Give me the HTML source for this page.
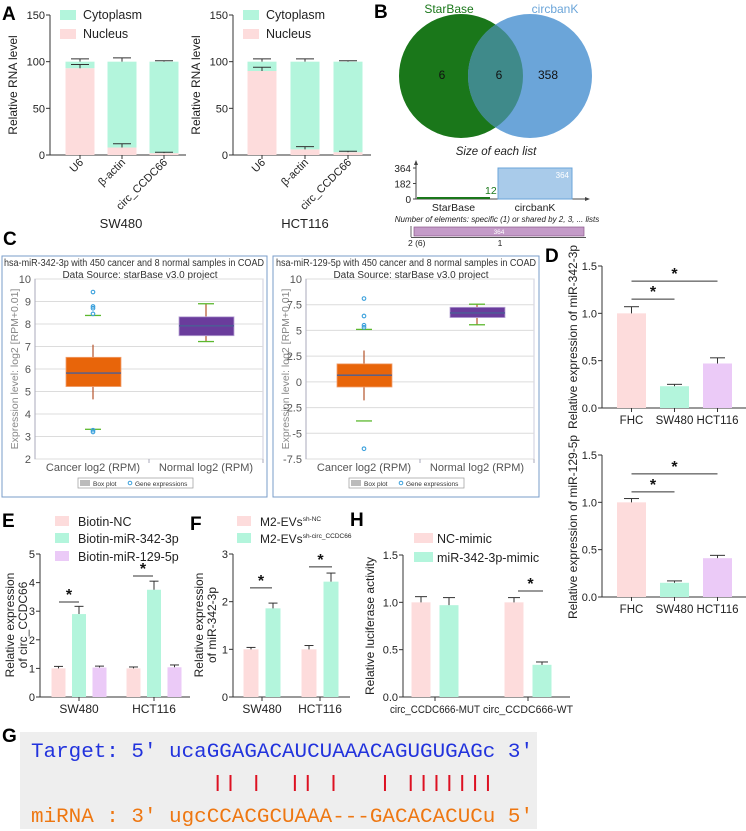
<!DOCTYPE html>
<html><head><meta charset="utf-8"><style>
html,body{margin:0;padding:0;background:#fff;}
svg{display:block;font-family:"Liberation Sans",Arial,sans-serif;}
.lt{font-weight:bold;font-size:19px;fill:#000;}
.yt{font-size:12px;fill:#222;}
.ct{font-size:10px;fill:#333;}
</style></head><body>
<svg id="fig" width="746" height="831" viewBox="0 0 746 831">
<defs><clipPath id="greenClip"><circle cx="461" cy="76" r="62"/></clipPath></defs>

<!-- Panel letters -->
<text class="lt" x="2" y="20">A</text>
<text class="lt" x="374" y="18">B</text>
<text class="lt" x="3" y="245">C</text>
<text class="lt" x="545" y="262">D</text>
<text class="lt" x="2" y="527">E</text>
<text class="lt" x="190" y="530">F</text>
<text class="lt" x="350" y="526">H</text>
<text class="lt" x="2" y="742">G</text>

<!-- Panel A legends / titles -->
<g>
<rect x="60" y="10" width="16" height="10" fill="#b3f5dc"/><text x="83" y="19" font-size="12.5" fill="#222">Cytoplasm</text>
<rect x="60" y="29" width="16" height="10" fill="#fddcdc"/><text x="83" y="38" font-size="12.5" fill="#222">Nucleus</text>
</g>
<g>
<rect x="243" y="10" width="16" height="10" fill="#b3f5dc"/><text x="266" y="19" font-size="12.5" fill="#222">Cytoplasm</text>
<rect x="243" y="29" width="16" height="10" fill="#fddcdc"/><text x="266" y="38" font-size="12.5" fill="#222">Nucleus</text>
</g>
<text class="yt" transform="translate(17,85) rotate(-90)" text-anchor="middle">Relative RNA level</text>
<text class="yt" transform="translate(200,85) rotate(-90)" text-anchor="middle">Relative RNA level</text>
<text x="121" y="228" font-size="13" text-anchor="middle" fill="#222">SW480</text>
<text x="305" y="228" font-size="13" text-anchor="middle" fill="#222">HCT116</text>

<!-- Panel B -->
<g>
<circle cx="461" cy="76" r="62" fill="#1a771a"/>
<circle cx="530" cy="76" r="62" fill="#6ba5d9"/>
<circle cx="530" cy="76" r="62" fill="#3f8a8a" clip-path="url(#greenClip)"/>
<text x="449" y="13" font-size="12" text-anchor="middle" fill="#1a771a">StarBase</text>
<text x="555" y="13" font-size="12" text-anchor="middle" fill="#6ba5d9">circbanK</text>
<text x="442" y="79" font-size="12" text-anchor="middle" fill="#111">6</text>
<text x="499" y="79" font-size="12" text-anchor="middle" fill="#111">6</text>
<text x="548" y="79" font-size="12" text-anchor="middle" fill="#111">358</text>
</g>
<text x="496" y="155" font-size="11.5" font-style="italic" text-anchor="middle" fill="#222">Size of each list</text>
<text x="497" y="222" font-size="8" font-style="italic" text-anchor="middle" fill="#222">Number of elements: specific (1) or shared by 2, 3, ... lists</text>

<!-- Panel C boxes -->
<rect x="2" y="256" width="265" height="241" fill="none" stroke="#7a9cc8" stroke-width="1"/>
<rect x="273" y="256" width="266" height="241" fill="none" stroke="#7a9cc8" stroke-width="1"/>
<text class="ct" x="134" y="266" text-anchor="middle" textLength="260" lengthAdjust="spacingAndGlyphs">hsa-miR-342-3p with 450 cancer and 8 normal samples in COAD</text>
<text class="ct" x="140" y="278" text-anchor="middle">Data Source: starBase v3.0 project</text>
<text class="ct" x="406" y="266" text-anchor="middle" textLength="260" lengthAdjust="spacingAndGlyphs">hsa-miR-129-5p with 450 cancer and 8 normal samples in COAD</text>
<text class="ct" x="411" y="278" text-anchor="middle">Data Source: starBase v3.0 project</text>
<text transform="translate(18,369) rotate(-90)" font-size="10.5" fill="#888" text-anchor="middle">Expression level: log2 [RPM+0.01]</text>
<text transform="translate(289,369) rotate(-90)" font-size="10.5" fill="#888" text-anchor="middle">Expression level: log2 [RPM+0.01]</text>
<g>
<rect x="78" y="478" width="115" height="10" fill="#fff" stroke="#999" stroke-width="0.7"/>
<rect x="80" y="480" width="10" height="6" fill="#bbb"/><text x="93" y="486" font-size="6.5" fill="#333">Box plot</text>
<circle cx="130" cy="483" r="1.8" fill="none" stroke="#3aa0dc"/><text x="135" y="486" font-size="6.5" fill="#333">Gene expressions</text>
</g>
<g>
<rect x="349" y="478" width="115" height="10" fill="#fff" stroke="#999" stroke-width="0.7"/>
<rect x="351" y="480" width="10" height="6" fill="#bbb"/><text x="364" y="486" font-size="6.5" fill="#333">Box plot</text>
<circle cx="401" cy="483" r="1.8" fill="none" stroke="#3aa0dc"/><text x="406" y="486" font-size="6.5" fill="#333">Gene expressions</text>
</g>

<!-- Panel D titles -->
<text class="yt" transform="translate(577,337) rotate(-90)" text-anchor="middle">Relative expression of miR-342-3p</text>
<text class="yt" transform="translate(577,527) rotate(-90)" text-anchor="middle">Relative expression of miR-129-5p</text>

<!-- Panel E -->
<g>
<rect x="55" y="516" width="14" height="10" fill="#fddcdc"/><text x="78" y="526" font-size="12.5" fill="#222">Biotin-NC</text>
<rect x="55" y="533" width="14" height="10" fill="#b3f5dc"/><text x="78" y="543" font-size="12.5" fill="#222">Biotin-miR-342-3p</text>
<rect x="55" y="551" width="14" height="10" fill="#ebcaf7"/><text x="78" y="561" font-size="12.5" fill="#222">Biotin-miR-129-5p</text>
</g>
<text class="yt" transform="translate(14,625) rotate(-90)" text-anchor="middle">Relative expression</text>
<text class="yt" transform="translate(27,625) rotate(-90)" text-anchor="middle">of circ_CCDC66</text>

<!-- Panel F -->
<g>
<rect x="237" y="516" width="14" height="10" fill="#fddcdc"/><text x="260" y="526" font-size="12" fill="#222">M2-EVs<tspan font-size="6.5" dy="-5">sh-NC</tspan></text>
<rect x="237" y="533" width="14" height="10" fill="#b3f5dc"/><text x="260" y="543" font-size="12" fill="#222">M2-EVs<tspan font-size="6.5" dy="-5">sh-circ_CCDC66</tspan></text>
</g>
<text class="yt" transform="translate(203,625) rotate(-90)" text-anchor="middle">Relative expression</text>
<text class="yt" transform="translate(216,625) rotate(-90)" text-anchor="middle">of miR-342-3p</text>

<!-- Panel H -->
<g>
<rect x="414" y="533" width="19" height="10" fill="#fddcdc"/><text x="437" y="543" font-size="12.5" fill="#222">NC-mimic</text>
<rect x="414" y="552" width="19" height="10" fill="#b3f5dc"/><text x="437" y="562" font-size="12.5" fill="#222">miR-342-3p-mimic</text>
</g>
<text class="yt" transform="translate(374,626) rotate(-90)" text-anchor="middle">Relative luciferase activity</text>

<!-- Panel G -->
<rect x="20" y="732" width="517" height="97" fill="#eeeeee"/>
<text x="31" y="757" font-family="'Liberation Mono',monospace" font-size="20" fill="#2233dd" textLength="502" lengthAdjust="spacingAndGlyphs" xml:space="preserve">Target: 5' ucaGGAGACAUCUAAACAGUGUGAGc 3'</text>
<text x="31" y="822" font-family="'Liberation Mono',monospace" font-size="20" fill="#ee7711" textLength="502" lengthAdjust="spacingAndGlyphs" xml:space="preserve">miRNA : 3' ugcCCACGCUAAA---GACACACUCu 5'</text>

<g id="layer"></g>
</svg>
<script>
// ---------- Data ----------
const aCats = ['U6', 'β-actin', 'circ_CCDC66'];
const aTicks = [0, 50, 100, 150];
const aSwNucleus = [93, 8, 2];
const aSwNucleusErr = [97, 12, 3];
const aSwTotal = [100, 100, 100];
const aSwTotalErr = [103, 104, 101];
const aHctNucleus = [90, 6, 3];
const aHctNucleusErr = [94, 9, 4];
const aHctTotal = [100, 100, 100];
const aHctTotalErr = [103, 103, 101];

const bCats = ['StarBase', 'circbanK'];
const bSizes = [12, 364];
const bTicks = [0, 182, 364];

const cCats = ['Cancer log2 (RPM)', 'Normal log2 (RPM)'];
const c1Ticks = [2, 3, 4, 5, 6, 7, 8, 9, 10];
const c1Q1 = [5.22, 7.48];
const c1Med = [5.82, 7.92];
const c1Q3 = [6.52, 8.32];
const c1WLo = [4.65, 7.22];
const c1WHi = [7.08, 8.9];
const c1CapLo = [3.32, 7.22];
const c1CapHi = [8.38, 8.9];
const c1Out = [[9.42, 8.78, 8.7, 8.45, 3.28, 3.2], []];
const c2Ticks = [-7.5, -5, -2.5, 0, 2.5, 5, 7.5, 10];
const c2Q1 = [-0.5, 6.25];
const c2Med = [0.65, 6.7];
const c2Q3 = [1.75, 7.25];
const c2WLo = [-1.8, 5.55];
const c2WHi = [3.05, 7.55];
const c2CapLo = [-3.8, 5.55];
const c2CapHi = [5.1, 7.55];
const c2Out = [[8.1, 6.4, 5.5, 5.3, -6.5], []];

const dCats = ['FHC', 'SW480', 'HCT116'];
const dTicks = [0, 0.5, 1.0, 1.5];
const d342 = [1.0, 0.23, 0.47];
const d342Err = [1.07, 0.25, 0.53];
const d129 = [1.0, 0.15, 0.41];
const d129Err = [1.04, 0.17, 0.44];

const eGroups = ['SW480', 'HCT116'];
const eTicks = [0, 1, 2, 3, 4, 5];
const eNC = [1.0, 1.0];
const eNCErr = [1.07, 1.05];
const e342 = [2.9, 3.75];
const e342Err = [3.17, 4.05];
const e129 = [1.03, 1.04];
const e129Err = [1.08, 1.12];

const fGroups = ['SW480', 'HCT116'];
const fTicks = [0, 1, 2, 3];
const fNC = [1.0, 1.0];
const fNCErr = [1.04, 1.08];
const fSh = [1.86, 2.42];
const fShErr = [1.97, 2.6];

const hGroups = ['circ_CCDC666-MUT', 'circ_CCDC666-WT'];
const hTicks = [0, 0.5, 1.0, 1.5];
const hNC = [1.0, 1.0];
const hNCErr = [1.06, 1.05];
const hMimic = [0.97, 0.34];
const hMimicErr = [1.05, 0.37];

// pairing positions (target index) in G alignment
const gPairs = [3, 4, 6, 9, 10, 12, 16, 18, 19, 20, 21, 22, 23, 24];

// ---------- Helpers ----------
const NS = 'http://www.w3.org/2000/svg';
const layer = document.getElementById('layer');
const PINK = '#fddcdc', MINT = '#b3f5dc', LAV = '#ebcaf7';
function el(tag, attrs, parent) {
  const e = document.createElementNS(NS, tag);
  for (const k in attrs) e.setAttribute(k, attrs[k]);
  (parent || layer).appendChild(e);
  return e;
}
function lin(d0, d1, r0, r1) { return v => r0 + (v - d0) * (r1 - r0) / (d1 - d0); }
function fmt1(v) { return v.toFixed(1); }

function yAxis(name, x, y, ticks, f) {
  const ax = el('line', {x1: x, x2: x, y1: y(ticks[ticks.length - 1]), y2: y(ticks[0]), stroke: '#333', 'stroke-width': 1});
  
  
  ticks.forEach(t => {
    el('line', {x1: x - 4, x2: x, y1: y(t), y2: y(t), stroke: '#333'});
    const tx = el('text', {x: x - 5, y: y(t) + 4, 'text-anchor': 'end', 'font-size': 11, fill: '#222'});
    tx.textContent = f(t);
    
    
  });
}
function xAxis(name, x0, x1, yv) {
  const ax = el('line', {x1: x0, x2: x1, y1: yv, y2: yv, stroke: '#333', 'stroke-width': 1});
  
  
}
function bar(name, cx, w, y, v0, v1, color) {
  const r = el('rect', {x: cx - w / 2, y: y(v1), width: w, height: y(v0) - y(v1), fill: color});
  
  
}
function errBar(name, cx, y, v, e, cap) {
  const g = el('g', {stroke: '#333', 'stroke-width': 1});
  
  
  el('line', {x1: cx, x2: cx, y1: y(v), y2: y(e)}, g);
  el('line', {x1: cx - cap / 2, x2: cx + cap / 2, y1: y(e), y2: y(e)}, g);
}
function sig(name, xa, xb, yv) {
  const l = el('line', {x1: xa, x2: xb, y1: yv, y2: yv, stroke: '#333'});
  
  
  const s = el('text', {x: (xa + xb) / 2, y: yv - 2, 'text-anchor': 'middle', 'font-size': 16, 'font-weight': 'bold', fill: '#111'});
  s.textContent = '*';
  
  
}
function xLabel(name, x, axisY, txt, size, len) {
  el('line', {x1: x, x2: x, y1: axisY, y2: axisY + 4, stroke: '#333'});
  const attrs = {x: x, y: axisY + 16, 'text-anchor': 'middle', 'font-size': size || 11.5, fill: '#222'};
  if (len) { attrs.textLength = len; attrs.lengthAdjust = 'spacingAndGlyphs'; }
  const t = el('text', attrs);
  t.textContent = txt;
  
  
}

// ---------- Panel A ----------
function panelA(prefix, axisX, start, step, nuc, nucErr, tot, totErr) {
  const y = lin(0, 150, 155, 15);
  yAxis(prefix, axisX, y, aTicks, t => String(t));
  xAxis(prefix, axisX, start + step * aCats.length - 6, 155);
  aCats.forEach((c, i) => {
    const cx = start + 14 + i * step;
    bar(prefix + '-nucleus-bar', cx, 29, y, 0, nuc[i], PINK);
    bar(prefix + '-cytoplasm-bar', cx, 29, y, nuc[i], tot[i], MINT);
    errBar(prefix + '-nucleus-error', cx, y, nuc[i], nucErr[i], 18);
    errBar(prefix + '-cytoplasm-error', cx, y, tot[i], totErr[i], 18);
    el('line', {x1: cx, x2: cx, y1: 155, y2: 159, stroke: '#333'});
    const t = el('text', {transform: `translate(${cx + 4},${163}) rotate(-45)`, 'text-anchor': 'end', 'font-size': 11, fill: '#222'});
    t.textContent = c;
    
    
  });
}
panelA('a-sw480', 50, 66, 42, aSwNucleus, aSwNucleusErr, aSwTotal, aSwTotalErr);
panelA('a-hct116', 233, 248, 43, aHctNucleus, aHctNucleusErr, aHctTotal, aHctTotalErr);

// ---------- Panel B bar ----------
(function () {
  const y = lin(0, 364, 199, 168);
  const ax = 416;
  el('line', {x1: ax, x2: ax, y1: 163, y2: 199, stroke: '#444'});
  el('line', {x1: ax, x2: 588, y1: 199, y2: 199, stroke: '#444'});
  el('polygon', {points: '414,165 416,160 418,165', fill: '#444'});
  el('polygon', {points: '585,197 590,199 585,201', fill: '#444'});
  bTicks.forEach(t => {
    el('line', {x1: ax - 3, x2: ax, y1: y(t), y2: y(t), stroke: '#444'});
    const tx = el('text', {x: ax - 5, y: y(t) + 4, 'text-anchor': 'end', 'font-size': 10, fill: '#222'});
    tx.textContent = t;
    
    
  });
  const xs = [417, 498], ws = [73, 74], cols = ['#1a771a', '#a9cbea'];
  bCats.forEach((c, i) => {
    const h = Math.max(2, y(0) - y(bSizes[i]));
    const r = el('rect', {x: xs[i], y: y(0) - h, width: ws[i], height: h, fill: cols[i], stroke: i ? '#6ba5d9' : 'none'});
    
    
    const lb = el('text', {x: xs[i] + ws[i] / 2, y: 211, 'text-anchor': 'middle', 'font-size': 10.5, fill: '#222'});
    lb.textContent = c;
    
    
    const v = el('text', i ? {x: xs[i] + ws[i] - 3, y: y(bSizes[i]) + 10, 'text-anchor': 'end', 'font-size': 8, fill: '#fff'} : {x: xs[i] + ws[i] - 5, y: 194, 'text-anchor': 'start', 'font-size': 10.5, fill: '#1a771a'});
    v.textContent = bSizes[i];
    
    
  });
  const sx = lin(0, 364, 414, 584);
  el('line', {x1: 411, x2: 411, y1: 226, y2: 237, stroke: '#666'});
  const pb = el('rect', {x: sx(0), y: 227, width: sx(bSizes[1]) - sx(0), height: 9, fill: '#c49bc8', stroke: '#8a5a8a', 'stroke-width': 0.7});
  
  
  el('line', {x1: 411, x2: 586, y1: 237.5, y2: 237.5, stroke: '#555'});
  const pt = el('text', {x: (sx(0) + sx(bSizes[1])) / 2, y: 234, 'text-anchor': 'middle', 'font-size': 6.5, fill: '#fff'});
  pt.textContent = bSizes[1];
  const l1 = el('text', {x: 408, y: 246, 'font-size': 8.5, fill: '#222'});
  l1.textContent = '2 (6)';
  const l2 = el('text', {x: 500, y: 246, 'text-anchor': 'middle', 'font-size': 8.5, fill: '#222'});
  l2.textContent = '1';
})();

// ---------- Panel C ----------
function panelC(prefix, off, ticks, q1, med, q3, wlo, whi, clo, chi, outs) {
  const y = lin(ticks[0], ticks[ticks.length - 1], 459, 279);
  const x0 = 35 + off, x1 = 263 + off;
  el('rect', {x: x0, y: 279, width: x1 - x0, height: 180, fill: 'none', stroke: '#ccd'});
  ticks.forEach(t => {
    el('line', {x1: x0, x2: x1, y1: y(t), y2: y(t), stroke: '#dcdcdc'});
    const tx = el('text', {x: x0 - 4, y: y(t) + 4, 'text-anchor': 'end', 'font-size': 11, fill: '#555'});
    tx.textContent = t;
    
    
  });
  el('line', {x1: x0, x2: x0, y1: 279, y2: 459, stroke: '#aab'});
  const centers = [93 + off, 206 + off];
  const fills = ['#e8650a', '#6a3c9c'];
  cCats.forEach((c, i) => {
    const cx = centers[i];
    el('line', {x1: cx, x2: cx, y1: y(whi[i]), y2: y(wlo[i]), stroke: '#b5532a', 'stroke-width': 1.2});
    const b = el('rect', {x: cx - 27, y: y(q3[i]), width: 55, height: y(q1[i]) - y(q3[i]), fill: fills[i], stroke: i ? '#b9a6d6' : '#f0a070', 'stroke-width': 0.8});
    
    
    el('line', {x1: cx - 27, x2: cx + 28, y1: y(med[i]), y2: y(med[i]), stroke: '#4a5f96', 'stroke-width': 1.3});
    [clo[i], chi[i]].forEach(v => el('line', {x1: cx - 8, x2: cx + 8, y1: y(v), y2: y(v), stroke: '#5cb82e', 'stroke-width': 1.3}));
    outs[i].forEach(v => {
      const o = el('circle', {cx: cx, cy: y(v), r: 1.8, fill: 'none', stroke: '#3aa0dc', 'stroke-width': 1.1});
      
      
    });
    el('line', {x1: x0 + 114 * i + 114, x2: x0 + 114 * i + 114, y1: 459, y2: 463, stroke: '#aab'});
    const t = el('text', {x: cx, y: 471, 'text-anchor': 'middle', 'font-size': 11, fill: '#555'});
    t.textContent = c;
    
    
  });
}
panelC('c-mir342', 0, c1Ticks, c1Q1, c1Med, c1Q3, c1WLo, c1WHi, c1CapLo, c1CapHi, c1Out);
panelC('c-mir129', 271, c2Ticks, c2Q1, c2Med, c2Q3, c2WLo, c2WHi, c2CapLo, c2CapHi, c2Out);

// ---------- Panel D ----------
function panelD(prefix, y0px, vals, errs, s1, s2) {
  const y = lin(0, 1.5, y0px, y0px - 142);
  yAxis(prefix, 602, y, dTicks, fmt1);
  xAxis(prefix, 602, 746, y0px);
  const cols = [PINK, MINT, LAV];
  const cs = [];
  dCats.forEach((c, i) => {
    const cx = 631.5 + i * 43;
    cs.push(cx);
    bar(prefix + '-bar-' + c, cx, 29, y, 0, vals[i], cols[i]);
    errBar(prefix + '-error-' + c, cx, y, vals[i], errs[i], 15);
    xLabel(prefix + '-x-label', cx, y0px, c, 11.5);
  });
  sig(prefix + '-sig-fhc-sw480', cs[0], cs[1], y(s1));
  sig(prefix + '-sig-fhc-hct116', cs[0], cs[2], y(s2));
}
panelD('d-mir342', 408, d342, d342Err, 1.15, 1.34);
panelD('d-mir129', 597, d129, d129Err, 1.11, 1.30);

// ---------- Panel E ----------
(function () {
  const y = lin(0, 5, 697, 554);
  yAxis('e', 40, y, eTicks, t => String(t));
  xAxis('e', 40, 190, 697);
  const centers = [79, 154];
  eGroups.forEach((g, i) => {
    const c = centers[i];
    bar('e-biotin-nc-' + g, c - 20.5, 14, y, 0, eNC[i], PINK);
    bar('e-biotin-342-' + g, c, 14, y, 0, e342[i], MINT);
    bar('e-biotin-129-' + g, c + 20.5, 14, y, 0, e129[i], LAV);
    errBar('e-nc-error', c - 20.5, y, eNC[i], eNCErr[i], 9);
    errBar('e-342-error', c, y, e342[i], e342Err[i], 9);
    errBar('e-129-error', c + 20.5, y, e129[i], e129Err[i], 9);
    xLabel('e-x-label-' + g, c, 697, g, 12);
  });
  sig('e-sig-sw480', 59, 79, y(3.32));
  sig('e-sig-hct116', 133, 153, y(4.23));
})();

// ---------- Panel F ----------
(function () {
  const y = lin(0, 3, 697, 554);
  yAxis('f', 233, y, fTicks, t => String(t));
  xAxis('f', 233, 350, 697);
  const centers = [262, 320];
  fGroups.forEach((g, i) => {
    const c = centers[i];
    bar('f-sh-nc-' + g, c - 11, 15, y, 0, fNC[i], PINK);
    bar('f-sh-circ-' + g, c + 11, 15, y, 0, fSh[i], MINT);
    errBar('f-nc-error', c - 11, y, fNC[i], fNCErr[i], 9);
    errBar('f-sh-error', c + 11, y, fSh[i], fShErr[i], 9);
    xLabel('f-x-label-' + g, c, 697, g, 12);
  });
  sig('f-sig-sw480', 250, 272, y(2.29));
  sig('f-sig-hct116', 309, 332, y(2.73));
})();

// ---------- Panel H ----------
(function () {
  const y = lin(0, 1.5, 697, 555);
  yAxis('h', 403, y, hTicks, fmt1);
  xAxis('h', 403, 570, 697);
  const centers = [435, 528];
  hGroups.forEach((g, i) => {
    const c = centers[i];
    bar('h-nc-mimic-' + g, c - 14, 19, y, 0, hNC[i], PINK);
    bar('h-342-mimic-' + g, c + 14, 19, y, 0, hMimic[i], MINT);
    errBar('h-nc-error', c - 14, y, hNC[i], hNCErr[i], 12);
    errBar('h-mimic-error', c + 14, y, hMimic[i], hMimicErr[i], 12);
    xLabel('h-x-label-' + g, c, 697, g, 11, 90);
  });
  sig('h-sig-wt', 518, 543, y(1.12));
})();

// ---------- Panel G pairing bars ----------
(function () {
  const cw = 502 / 39;
  gPairs.forEach(k => {
    const x = 31 + (11 + k + 0.5) * cw;
    const l = el('line', {x1: x, x2: x, y1: 775, y2: 791, stroke: '#dd1122', 'stroke-width': 2});
    
    
  });
})();
</script>
</body></html>
